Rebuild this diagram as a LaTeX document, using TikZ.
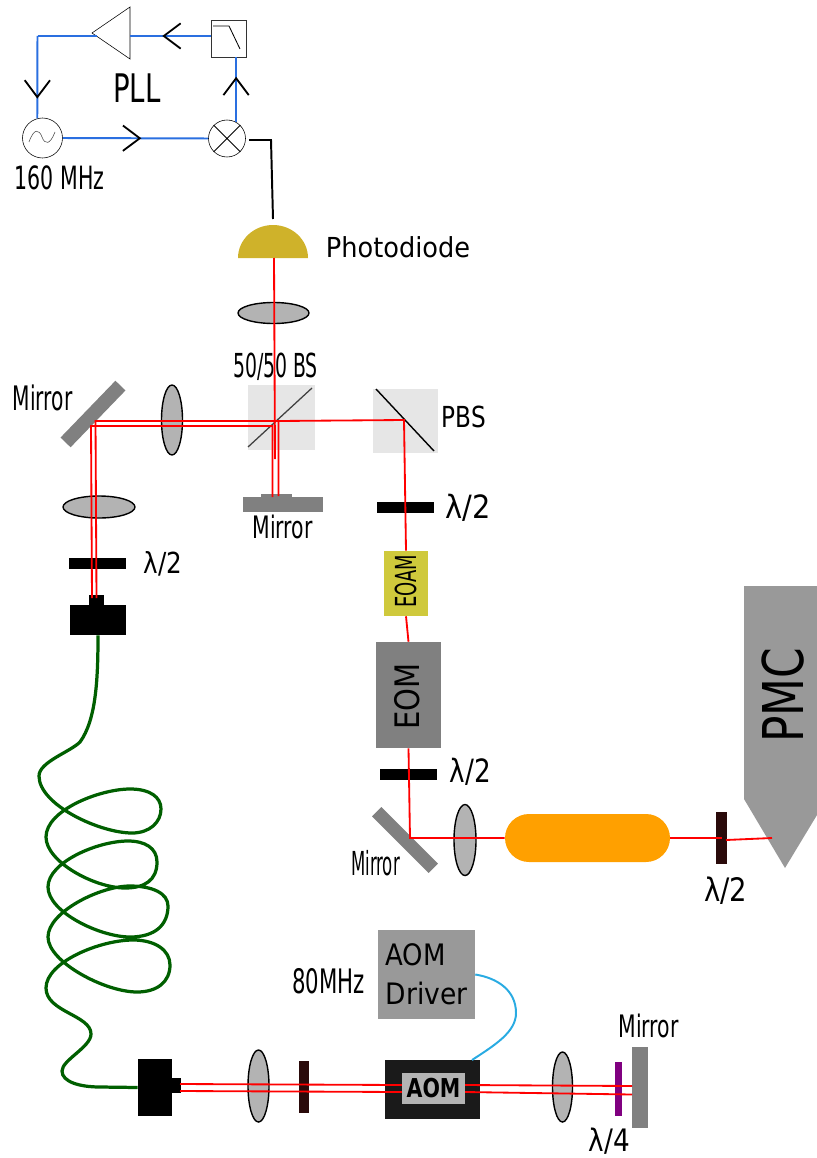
\documentclass[tikz,border=0pt]{standalone}
\usepackage{graphicx}
\usepackage{fontspec}
\setmainfont{DejaVu Sans}
\usetikzlibrary{shapes, arrows.meta, decorations.markings}

\definecolor{pllblue}{HTML}{2A6FE0}
\definecolor{rfblue}{HTML}{29ABE2}
\definecolor{pdgold}{HTML}{CFB22A}
\definecolor{fibergreen}{HTML}{005F00}
\definecolor{lensgray}{HTML}{B3B3B3}
\definecolor{cubegray}{HTML}{E6E6E6}
\definecolor{mirrorgray}{HTML}{808080}
\definecolor{boxgray}{HTML}{999999}
\definecolor{eoamyellow}{HTML}{CFC93C}
\definecolor{capsuleorange}{HTML}{FFA000}
\definecolor{platebrown}{HTML}{2A0A0A}
\definecolor{qwppurple}{HTML}{800080}
\definecolor{aomblack}{HTML}{1A1A1A}

\newcommand{\sqz}[3]{{\fontsize{#1}{#1}\selectfont\scalebox{#2}[1]{#3}}}

\tikzset{
    wire/.style={draw=pllblue, line width=1.4pt},
    midtip/.style={postaction={decorate}, decoration={markings, mark=at position #1 with {\arrow[black, line width=1.3pt]{Straight Barb[length=12pt, width=18pt]}}}},
    beam/.style={draw=red, line width=1.3pt},
    lens/.style={ellipse, draw=black, fill=lensgray, line width=1pt, inner sep=0pt},
    block/.style={rectangle, inner sep=0pt},
    plate/.style={block, fill=black},
    mirrorbar/.style={block, fill=mirrorgray},
    cube/.style={block, fill=cubegray},
    lbl/.style={inner sep=0pt}
}

\begin{document}
\begin{tikzpicture}[x=0.25mm, y=-0.25mm]
    \useasboundingbox (0,0) rectangle (817,1158);

    \node[circle, draw, fill=white, minimum size=1cm, inner sep=0pt] (vco) at (42.5,138) {};
    \node[circle, draw, fill=white, minimum size=0.925cm, inner sep=0pt] (mix) at (227,138.5) {};
    \node[block, draw=black!80, minimum width=0.875cm, minimum height=0.925cm] (lpf) at (228.5,38.5) {};
    \coordinate (ampin) at (97,36);
    \coordinate (ampout) at (130,36);
    \coordinate (corner) at (37.5,36);
    \coordinate (mixout) at (249,140);
    \coordinate (mixbend) at (271,140);
    \coordinate (pdwire) at (273,219);
    \draw (92,33) -- (130,7) -- (130,59) -- cycle;
    \draw[line width=0.4pt, black!70] (29,142) .. controls (34,128) and (39,129) .. (42,137) .. controls (45,145) and (50,145) .. (55,132);
    \draw[line width=0.6pt] (mix.45) -- (mix.225) (mix.135) -- (mix.315);
    \draw[line width=0.6pt] (213,26) -- (229,26) -- (240,49);

    \draw[wire, midtip=0.7] (mix.61) -- (mix.61 |- lpf.south);
    \draw[wire, midtip=0.6] (ampout -| lpf.west) -- (ampout);
    \draw[wire] (ampin) -- (corner);
    \draw[wire, midtip=0.76] (corner) -- (vco.105);
    \draw[wire, midtip=0.54] (vco.east) -- (mix.west);
    \draw[line width=1.4pt] (mixout) -- (mixbend) -- (pdwire);

    \fill[pdgold] (238,258) arc[start angle=180, end angle=360, x radius=35, y radius=33] -- cycle;

    \node[lens, minimum width=1.775cm, minimum height=0.525cm] (lensA) at (273.5,313) {};
    \node[lens, minimum width=0.525cm, minimum height=1.75cm] (lensB) at (172,420) {};
    \node[lens, minimum width=1.8cm, minimum height=0.55cm] (lensC) at (99,507) {};
    \node[lens, minimum width=0.55cm, minimum height=1.775cm] (lensD) at (465,840) {};
    \node[lens, minimum width=0.525cm, minimum height=1.8cm] (lensE) at (258.5,1086) {};
    \node[lens, minimum width=0.5cm, minimum height=1.75cm] (lensF) at (562.5,1087) {};

    \node[cube, minimum width=1.675cm, minimum height=1.625cm] (bs) at (281.5,417.5) {};
    \node[cube, minimum width=1.625cm, minimum height=1.6cm] (pbs) at (405.5,421) {};
    \draw[line width=0.9pt, black!75] (248,447) -- (312,388);
    \draw[line width=1pt] (376,389) -- (434,451);

    \node[mirrorbar, minimum width=1.975cm, minimum height=0.35cm, rotate=46] (mirrorA) at (93,414) {};
    \node[mirrorbar, minimum width=2cm, minimum height=0.375cm] (mirrorB) at (283,504.5) {};
    \node[mirrorbar, minimum width=0.775cm, minimum height=0.1cm] (mirrorBtop) at (276.5,495.5) {};
    \node[mirrorbar, minimum width=2cm, minimum height=0.33cm, rotate=-45] (mirrorC) at (405,840) {};
    \node[mirrorbar, minimum width=0.4cm, minimum height=2.025cm] (mirrorD) at (640,1087) {};

    \node[plate, minimum width=1.425cm, minimum height=0.275cm] (hwpA) at (405,507.5) {};
    \node[plate, minimum width=1.425cm, minimum height=0.275cm] (hwpB) at (97.5,563.5) {};
    \node[plate, minimum width=1.425cm, minimum height=0.275cm] (hwpC) at (408.5,774.5) {};
    \node[plate, fill=platebrown, minimum width=0.275cm, minimum height=1.3cm] (hwpD) at (721.5,838) {};
    \node[plate, fill=platebrown, minimum width=0.25cm, minimum height=1.3cm] (hwpE) at (304,1087) {};
    \node[plate, fill=qwppurple, minimum width=0.175cm, minimum height=1.35cm] (qwp) at (618.5,1089) {};

    \node[block, fill=eoamyellow, minimum width=1.1cm, minimum height=1.625cm] (eoam) at (406,583.5) {};
    \node[block, fill=mirrorgray, minimum width=1.625cm, minimum height=2.65cm] (eom) at (408.5,695) {};
    \node[block, fill=capsuleorange, rounded corners=0.6cm, minimum width=4.125cm, minimum height=1.2cm] (cavity) at (587.5,838) {};
    \node[block, fill=boxgray, minimum width=2.425cm, minimum height=2.225cm, align=left, font=\fontsize{21}{27}\selectfont] (aomdrv) at (426.5,974.5) {\sqz{21}{0.88}{AOM}\\[1pt]\sqz{21}{0.9}{Driver}};
    \node[block, fill=aomblack, minimum width=2.375cm, minimum height=1.475cm] (aom) at (432.5,1089.5) {};
    \fill[boxgray] (744,586) -- (817,586) -- (817,815) -- (785,868) -- (744,799) -- cycle;

    \node[plate, minimum width=1.4cm, minimum height=0.75cm] (cplA) at (98,620) {};
    \node[plate, minimum width=0.375cm, minimum height=0.275cm] (cplAtip) at (96.5,600) {};
    \node[plate, minimum width=0.85cm, minimum height=1.425cm] (cplB) at (155,1087.5) {};
    \node[plate, minimum width=0.25cm, minimum height=0.375cm] (cplBtip) at (176,1085.5) {};

    \coordinate (pdbeam) at (274,258);
    \coordinate (bsdump) at (275,459);
    \coordinate (pbsturn) at (404,420);
    \coordinate (bsturn) at (278.5,421);
    \coordinate (bsback) at (278.5,496);
    \coordinate (bsfoot) at (272.5,497);
    \coordinate (bslow) at (272.5,426);
    \coordinate (foldA) at (95.5,421);
    \coordinate (foldB) at (91,426);
    \coordinate (cplAinA) at (96.5,598);
    \coordinate (cplAinB) at (92,598);
    \coordinate (foldC) at (410,838);
    \coordinate (pmcport) at (772,838);
    \coordinate (hwpDout) at (726,840);
    \coordinate (cplBoutA) at (180,1084);
    \coordinate (cplBoutB) at (180,1091);
    \coordinate (aominA) at (402,1085);
    \coordinate (aominB) at (402,1092);
    \coordinate (aomoutA) at (465,1085);
    \coordinate (aomoutB) at (465,1092);
    \coordinate (mirrorDA) at (632,1086);
    \coordinate (mirrorDB) at (632,1094.5);

    \draw[beam] (pmcport) -- (hwpDout);
    \draw[beam] (hwpD.center) -- (cavity.east);
    \draw[beam] (cavity.west) -- (foldC) -- (eom.south);
    \draw[beam] (eom.north) -- (eoam.south);
    \draw[beam] (eoam.north) -- (pbsturn) -- (bsturn) -- (bsback);
    \draw[beam] (pdbeam) -- (bsdump);
    \draw[beam] (bsturn) -- (foldA) -- (cplAinA);
    \draw[beam] (bsfoot) -- (bslow) -- (foldB) -- (cplAinB);
    \draw[beam] (cplBoutA) -- (aominA);
    \draw[beam] (cplBoutB) -- (aominB);
    \draw[beam] (aomoutA) -- (mirrorDA);
    \draw[beam] (aomoutB) -- (mirrorDB);

    \node[block, fill=lensgray, minimum width=1.575cm, minimum height=0.775cm] (aomin) at (433.5,1088.5) {\sqz{18.5}{0.79}{\bfseries AOM}};

    \draw[rfblue, line width=1.4pt] (aomdrv.east) .. controls (497,978) and (516,990) .. (516,1013) .. controls (516,1032) and (495,1045) .. (472,1060);

    \draw[fibergreen, line width=2.3pt] (cplA.south) .. controls (98,680) and (96,720) .. (80,742)
        .. controls (70,752) and (39,762) .. (39,776)
        .. controls (39,805) and (100,833) .. (132,833)
        .. controls (150,833) and (161,822) .. (161,809)
        .. controls (161,797) and (150,789) .. (130,789)
        .. controls (100,789) and (46,810) .. (46,837)
        .. controls (46,862) and (95,888) .. (125,888)
        .. controls (145,888) and (157,880) .. (157,862)
        .. controls (157,848) and (145,841) .. (128,841)
        .. controls (98,841) and (48,862) .. (48,887)
        .. controls (48,912) and (100,937) .. (130,937)
        .. controls (155,937) and (168,925) .. (168,906)
        .. controls (168,893) and (152,886) .. (130,886)
        .. controls (100,886) and (48,912) .. (48,937)
        .. controls (48,962) and (105,992) .. (137,992)
        .. controls (157,992) and (170,982) .. (170,965)
        .. controls (170,950) and (155,940) .. (133,940)
        .. controls (100,940) and (46,962) .. (46,988)
        .. controls (46,1012) and (91,1015) .. (91,1034)
        .. controls (91,1047) and (62,1060) .. (62,1071)
        .. controls (62,1082) and (80,1087) .. (100,1087)
        -- (cplB.west);

    \node[lbl] (pll) at (137,88) {\sqz{28}{0.7}{PLL}};
    \node[lbl] (vcolabel) at (59.5,178) {\sqz{22.8}{0.64}{160 MHz}};
    \node[lbl] (pdlabel) at (398,247) {\sqz{19.6}{0.93}{Photodiode}};
    \node[lbl] (bslabel) at (275.5,367) {\sqz{23.5}{0.57}{50/50 BS}};
    \node[lbl] (pbslabel) at (464,417) {\sqz{20.6}{0.8}{PBS}};
    \node[lbl] (mirrorAlabel) at (42.5,398) {\sqz{24}{0.6}{Mirror}};
    \node[lbl] (mirrorBlabel) at (282.5,527) {\sqz{22}{0.66}{Mirror}};
    \node[lbl] (mirrorClabel) at (375.5,863) {\sqz{23.5}{0.5}{Mirror}};
    \node[lbl] (mirrorDlabel) at (648.5,1026) {\sqz{22}{0.66}{Mirror}};
    \node[lbl] (hwpAlabel) at (468,508) {\sqz{22.8}{0.9}{λ/2}};
    \node[lbl] (hwpBlabel) at (163,564) {\sqz{20.6}{0.85}{λ/2}};
    \node[lbl] (hwpClabel) at (470.5,772) {\sqz{22.8}{0.82}{λ/2}};
    \node[lbl] (hwpDlabel) at (725.5,891) {\sqz{23}{0.85}{λ/2}};
    \node[lbl] (qwplabel) at (609.5,1141) {\sqz{22}{0.85}{λ/4}};
    \node[lbl, rotate=90] (eoamlabel) at (405.5,581.5) {\sqz{20.6}{0.62}{EOAM}};
    \node[lbl, rotate=90] (eomlabel) at (407.5,696.5) {\sqz{24}{0.86}{EOM}};
    \node[lbl, rotate=90] (pmclabel) at (783,695) {\sqz{40}{0.78}{PMC}};
    \node[lbl] (drvlabel) at (328.5,981) {\sqz{24}{0.63}{80MHz}};
\end{tikzpicture}
\end{document}
